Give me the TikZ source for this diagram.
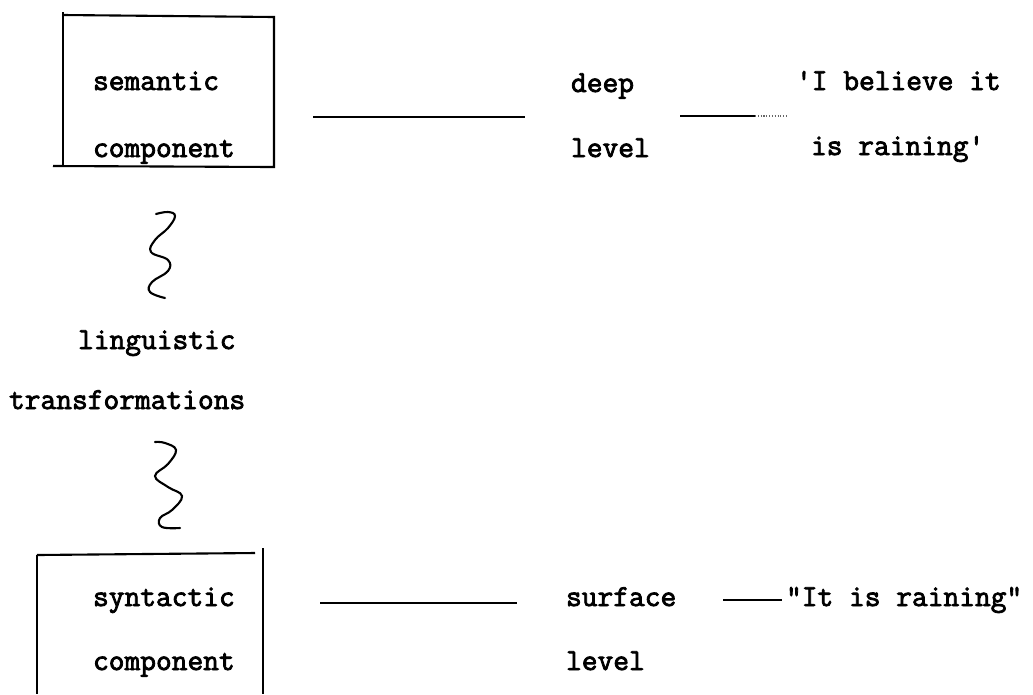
\documentclass[tikz,border=0pt]{standalone}
\usepackage{fontspec}
\setmonofont{Latin Modern Mono}[FakeBold=2.6]
\usetikzlibrary{positioning}

\begin{document}
\begin{tikzpicture}[x=0.02cm,y=-0.02cm,line width=1.2pt,
    tt/.style={font=\ttfamily\bfseries\fontsize{17.4}{20}\selectfont,anchor=base west,inner sep=0pt},
    rule/.style={line width=1.1pt}]
  \useasboundingbox (0,0) rectangle (1033,694);
  % semantic component box
  \draw (63,15) -- (274,17) -- (274,167) -- (53,166);
  \draw (63,12) -- (63,167);
  \node[tt] (sem) at (92,90) {semantic};
  \node[tt] (semcomp) at (92,157) {component};
  % deep level
  \node[tt] (deep) at (570,92) {deep};
  \node[tt] (deeplev) at (570,157) {level};
  \node[tt] (belief) at (795,90) {'I believe it};
  \node[tt] (belief2) at (810,155) {is raining'};
  \coordinate (d1) at (313,117);
  \coordinate (d2) at (525,117);
  \coordinate (d3) at (680,116);
  \coordinate (d4) at (755,116);
  \coordinate (d5) at (786,116);
  \draw[rule] (d1) -- (d2);
  \draw[rule] (d3) -- (d4);
  \draw[line width=0.6pt,densely dotted,black!60] (d4) -- (d5);
  % squiggles
  \draw[line cap=round] plot[smooth,tension=0.7] coordinates
    {(156,214) (168,212) (175,216) (168,228) (155,240) (151,252) (168,260) (168,271) (152,282) (150,292) (165,298)};
  \node[tt] (ling) at (77,349) {linguistic};
  \node[tt] (trans) at (8,409) {transformations};
  \draw[line cap=round] plot[smooth,tension=0.7] coordinates
    {(155,442) (165,443) (176,450) (168,464) (155,476) (168,487) (182,496) (172,510) (160,518) (162,527) (180,528)};
  % syntactic component box
  \draw (37,555) -- (255,553);
  \draw (37,555) -- (37,694);
  \draw (263,548) -- (263,694);
  \node[tt] (syn) at (92,606) {syntactic};
  \node[tt] (syncomp) at (92,670) {component};
  % surface level
  \node[tt] (surf) at (565,606) {surface};
  \node[tt] (surflev) at (565,670) {level};
  \node[tt] (plain) at (785,606) {"It is raining"};
  \coordinate (s1) at (320,603);
  \coordinate (s2) at (517,603);
  \coordinate (s3) at (723,600);
  \coordinate (s4) at (782,600);
  \draw[rule] (s1) -- (s2);
  \draw[line width=0.8pt] (s3) -- (s4);
\end{tikzpicture}
\end{document}
